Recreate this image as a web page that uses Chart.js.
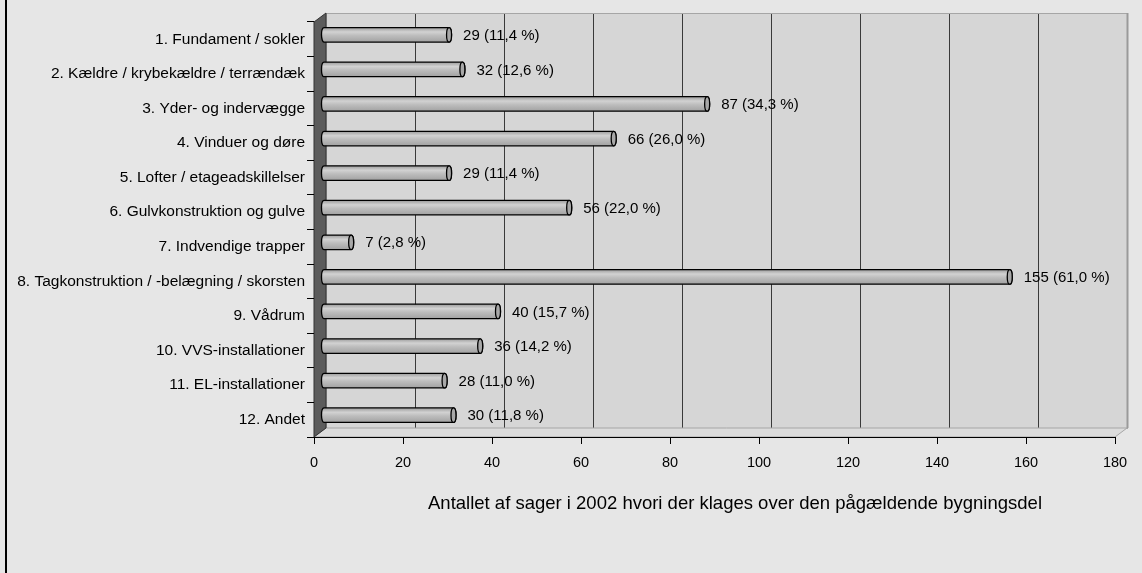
<!DOCTYPE html>
<html><head><meta charset="utf-8">
<script src="https://cdn.jsdelivr.net/npm/chart.js@4.4.1/dist/chart.umd.min.js"></script>
<style>html,body{margin:0;padding:0;background:#e6e6e6;overflow:hidden}#wrap{width:1142px;height:573px;position:relative}</style>
</head><body><div id="wrap"><canvas id="c" width="1142" height="573"></canvas></div>
<script>
const categories = [
  '1. Fundament / sokler',
  '2. Kældre / krybekældre / terrændæk',
  '3. Yder- og indervægge',
  '4. Vinduer og døre',
  '5. Lofter / etageadskillelser',
  '6. Gulvkonstruktion og gulve',
  '7. Indvendige trapper',
  '8. Tagkonstruktion / -belægning / skorsten',
  '9. Vådrum',
  '10. VVS-installationer',
  '11. EL-installationer',
  '12. Andet'
];
const counts = [29, 32, 87, 66, 29, 56, 7, 155, 40, 36, 28, 30];
const percents = ['11,4', '12,6', '34,3', '26,0', '11,4', '22,0', '2,8', '61,0', '15,7', '14,2', '11,0', '11,8'];
const xMin = 0, xMax = 180, xStep = 20;
const axisTitle = 'Antallet af sager i 2002 hvori der klages over den pågældende bygningsdel';

const FONT = 'Liberation Sans, Arial, sans-serif';
const DX = 12, DY = 9;       // depth of 3D box
const MX = DX / 2, MY = DY / 2; // bars sit at mid depth

const boxPlugin = {
  id: 'box',
  beforeDraw(chart) {
    const ctx = chart.ctx, a = chart.chartArea;
    ctx.save();
    ctx.fillStyle = '#e6e6e6';
    ctx.fillRect(0, 0, chart.width, chart.height);
    ctx.fillStyle = '#000';
    ctx.fillRect(5, 0, 2, chart.height);
    const bl = a.left + DX, bt = a.top - DY, br = a.right + DX, bb = a.bottom - DY;
    // back wall
    ctx.fillStyle = '#d6d6d6';
    ctx.fillRect(bl, bt, br - bl, bb - bt);
    ctx.strokeStyle = '#a6a6a6';
    ctx.lineWidth = 1;
    ctx.strokeRect(bl + 0.5, bt + 0.5, br - bl, bb - bt);
    ctx.strokeStyle = '#9a9a9a';
    ctx.lineWidth = 2;
    ctx.beginPath(); ctx.moveTo(br + 0.5, bt); ctx.lineTo(br + 0.5, bb); ctx.stroke();
    // grid lines on back wall
    const xs = chart.scales.x;
    ctx.strokeStyle = '#3a3a3a';
    ctx.lineWidth = 1;
    for (let v = xMin + xStep; v < xMax; v += xStep) {
      const px = Math.round(xs.getPixelForValue(v) + DX) + 0.5;
      ctx.beginPath(); ctx.moveTo(px, bt + 1); ctx.lineTo(px, bb); ctx.stroke();
    }
    // floor
    ctx.fillStyle = '#dcdcdc';
    ctx.strokeStyle = '#a6a6a6';
    ctx.beginPath();
    ctx.moveTo(a.left, a.bottom); ctx.lineTo(a.right, a.bottom);
    ctx.lineTo(br, bb); ctx.lineTo(bl, bb); ctx.closePath();
    ctx.fill(); ctx.stroke();
    // left wall
    ctx.fillStyle = '#5c5c5c';
    ctx.strokeStyle = '#333';
    ctx.beginPath();
    ctx.moveTo(a.left, a.top); ctx.lineTo(bl, bt); ctx.lineTo(bl, bb); ctx.lineTo(a.left, a.bottom);
    ctx.closePath();
    ctx.fill(); ctx.stroke();
    ctx.restore();
  },
  afterDatasetsDraw(chart) {
    const ctx = chart.ctx;
    const meta = chart.getDatasetMeta(0);
    ctx.save();
    meta.data.forEach((el, i) => {
      const p = el.getProps(['x', 'y', 'base', 'height'], true);
      const x0 = p.base + MX + 1, x1 = p.x + MX, yc = p.y - MY;
      const ry = p.height / 2, rx = 2.5;
      const g = ctx.createLinearGradient(0, yc - ry, 0, yc + ry);
      g.addColorStop(0, '#9c9c9c');
      g.addColorStop(0.3, '#d2d2d2');
      g.addColorStop(0.55, '#bdbdbd');
      g.addColorStop(1, '#a2a2a2');
      ctx.beginPath();
      ctx.moveTo(x0 + rx, yc - ry);
      ctx.lineTo(x1, yc - ry);
      ctx.ellipse(x1, yc, rx, ry, 0, -Math.PI / 2, Math.PI / 2);
      ctx.lineTo(x0 + rx, yc + ry);
      ctx.ellipse(x0 + rx, yc, rx, ry, 0, Math.PI / 2, Math.PI * 1.5);
      ctx.closePath();
      ctx.fillStyle = g;
      ctx.fill();
      ctx.strokeStyle = '#000';
      ctx.lineWidth = 1.3;
      ctx.stroke();
      // end cap
      ctx.beginPath();
      ctx.ellipse(x1, yc, rx, ry, 0, 0, Math.PI * 2);
      ctx.fillStyle = '#a8a8a8';
      ctx.fill();
      ctx.stroke();
      // value label
      ctx.fillStyle = '#000';
      ctx.font = '15px ' + FONT;
      ctx.textAlign = 'left';
      ctx.textBaseline = 'middle';
      ctx.fillText(counts[i] + ' (' + percents[i] + ' %)', x1 + 14, yc + 1);
    });
    // axis title
    ctx.font = '18.5px ' + FONT;
    ctx.textAlign = 'center';
    ctx.textBaseline = 'middle';
    ctx.fillStyle = '#000';
    ctx.fillText(axisTitle, 735, 504);
    ctx.restore();
  }
};

new Chart(document.getElementById('c'), {
  type: 'bar',
  data: {
    labels: categories,
    datasets: [{
      data: counts,
      backgroundColor: 'rgba(0,0,0,0)',
      borderWidth: 0,
      barPercentage: 0.42,
      categoryPercentage: 1
    }]
  },
  options: {
    indexAxis: 'y',
    responsive: false,
    animation: false,
    devicePixelRatio: 1,
    events: [],
    layout: { padding: { left: 0, right: 27, top: 22, bottom: 0 } },
    plugins: { legend: { display: false }, tooltip: { enabled: false } },
    scales: {
      x: {
        min: xMin, max: xMax,
        ticks: { stepSize: xStep, color: '#000', font: { family: FONT, size: 14.5 }, padding: 10 },
        grid: { drawOnChartArea: false, tickLength: 7, color: '#000', tickColor: '#000' },
        border: { display: true, color: '#000', width: 1 },
        afterFit(s) { s.height = 136; }
      },
      y: {
        ticks: { color: '#000', font: { family: FONT, size: 15.5 }, padding: 2 },
        grid: { drawOnChartArea: false, tickLength: 7, color: '#000', offset: true },
        border: { display: false },
        afterFit(s) { s.width = 314; }
      }
    }
  },
  plugins: [boxPlugin]
});
</script>
</body></html>
